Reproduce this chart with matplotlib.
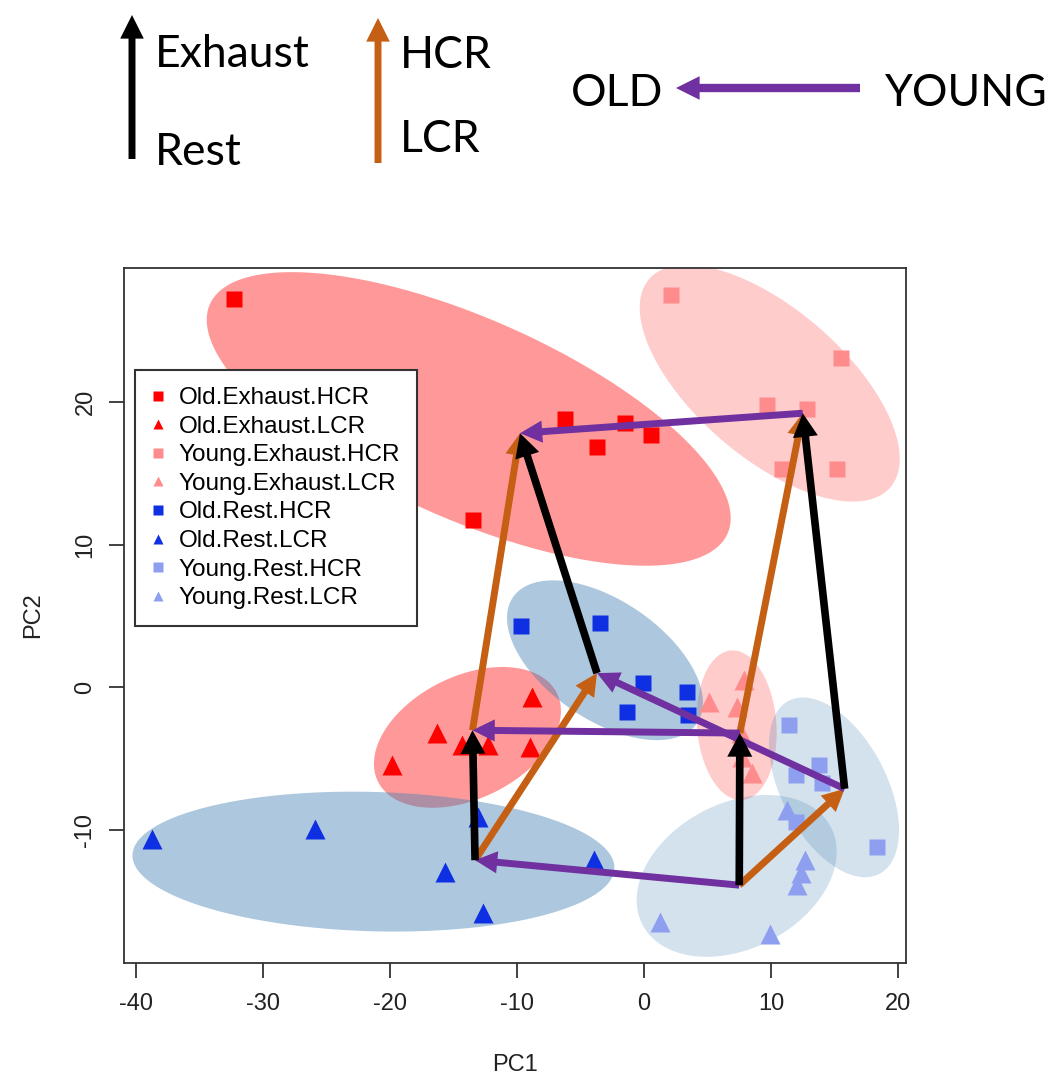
import numpy as np
import matplotlib.pyplot as plt
from matplotlib.lines import Line2D
from matplotlib.patches import FancyArrowPatch, ArrowStyle

plt.rcParams["axes.unicode_minus"] = False

# PCA scores, one pair of lists per group
groups = ["Old.Exhaust.HCR", "Old.Exhaust.LCR", "Young.Exhaust.HCR", "Young.Exhaust.LCR",
          "Old.Rest.HCR", "Old.Rest.LCR", "Young.Rest.HCR", "Young.Rest.LCR"]

old_exh_hcr_x = [-32.3, -13.5, -6.2, -3.7, -1.5, 0.55]
old_exh_hcr_y = [27.2, 11.7, 18.8, 16.85, 18.5, 17.7]
old_exh_lcr_x = [-19.8, -16.3, -14.3, -12.3, -8.8, -9.0]
old_exh_lcr_y = [-5.45, -3.2, -4.05, -4.05, -0.7, -4.2]
young_exh_hcr_x = [2.1, 15.5, 9.7, 12.8, 10.9, 15.2]
young_exh_hcr_y = [27.5, 23.1, 19.8, 19.5, 15.3, 15.3]
young_exh_lcr_x = [7.9, 5.1, 7.3, 7.7, 8.5, 7.6]
young_exh_lcr_y = [0.5, -1.05, -1.4, -4.9, -6.0, -3.2]
old_rest_hcr_x = [-9.7, -3.5, -0.1, 3.4, -1.3, 3.5]
old_rest_hcr_y = [4.3, 4.5, 0.3, -0.35, -1.75, -1.9]
old_rest_lcr_x = [-38.7, -25.9, -15.7, -12.7, -13.1, -3.9]
old_rest_lcr_y = [-10.6, -9.9, -12.9, -15.8, -9.1, -12.1]
young_rest_hcr_x = [11.4, 13.8, 12.0, 14.0, 18.35, 12.0]
young_rest_hcr_y = [-2.6, -5.4, -6.1, -6.7, -11.2, -9.4]
young_rest_lcr_x = [11.3, 12.7, 12.4, 12.05, 1.3, 9.9]
young_rest_lcr_y = [-8.6, -12.1, -13.0, -13.85, -16.4, -17.3]

xs = [old_exh_hcr_x, old_exh_lcr_x, young_exh_hcr_x, young_exh_lcr_x,
      old_rest_hcr_x, old_rest_lcr_x, young_rest_hcr_x, young_rest_lcr_x]
ys = [old_exh_hcr_y, old_exh_lcr_y, young_exh_hcr_y, young_exh_lcr_y,
      old_rest_hcr_y, old_rest_lcr_y, young_rest_hcr_y, young_rest_lcr_y]

# group centres (where the arrows meet)
centre_x = [-9.76, -13.5, 12.5, 7.55, -3.7, -13.3, 15.8, 7.5]
centre_y = [17.8, -3.0, 19.2, -3.2, 1.0, -12.1, -7.1, -13.85]

# ellipses: centre and covariance (sxx, syy, sxy)
ell_cx = [-13.8, -13.9, 9.9, 7.3, -3.07, -21.3, 14.96, 7.3]
ell_cy = [18.8, -3.5, 21.3, -2.65, 1.9, -12.2, -7.0, -13.2]
ell_sxx = [425.6, 54.2, 104.8, 9.9, 59.5, 360.0, 26.2, 62.0]
ell_syy = [105.7, 24.3, 68.7, 27.5, 31.3, 24.0, 39.6, 32.1]
ell_sxy = [-143.2, 13.6, -54.2, -1.65, -22.9, -8.1, -15.4, 13.4]

point_col = ["#ff0000", "#ff0000", "#ff8c8c", "#ff8c8c", "#0f2fe3", "#0f2fe3", "#8f9ff0", "#8f9ff0"]
ell_col = ["red", "red", "red", "red", "steelblue", "steelblue", "steelblue", "steelblue"]
ell_alpha = [0.4, 0.4, 0.2, 0.2, 0.44, 0.44, 0.23, 0.23]
markers = ["s", "^", "s", "^", "s", "^", "s", "^"]

# arrows as (from group, to group)
rest_to_exh = [(5, 1), (7, 3), (4, 0), (6, 2)]
lcr_to_hcr = [(1, 0), (3, 2), (5, 4), (7, 6)]
young_to_old = [(2, 0), (3, 1), (6, 4), (7, 5)]

fig = plt.figure(figsize=(10.52, 10.76), dpi=100)
ax = fig.add_axes([124 / 1052, 1 - 963 / 1076, 782 / 1052, 695 / 1076])

t = np.linspace(0, 2 * np.pi, 200)
for i in range(8):
    cov = np.array([[ell_sxx[i], ell_sxy[i]], [ell_sxy[i], ell_syy[i]]])
    L = np.linalg.cholesky(cov)
    pts = L @ np.vstack([np.cos(t), np.sin(t)])
    ax.fill(ell_cx[i] + pts[0], ell_cy[i] + pts[1], color=ell_col[i],
            alpha=ell_alpha[i], lw=0, zorder=1)

for i in range(8):
    ms = 12 if markers[i] == "s" else 15
    ax.plot(xs[i], ys[i], ls="none", marker=markers[i], ms=ms, color=point_col[i],
            mec="none", zorder=3)


def arrow(p0, p1, color, tail=5.0, hw=16.0, hl=16.0, **kw):
    a = FancyArrowPatch(p0, p1, arrowstyle=ArrowStyle.Simple(head_length=hl, head_width=hw, tail_width=tail),
                        mutation_scale=1, color=color, lw=0, shrinkA=0, shrinkB=0, **kw)
    return a


for a, b in lcr_to_hcr:
    ax.add_patch(arrow((centre_x[a], centre_y[a]), (centre_x[b], centre_y[b]), "#c55f13", zorder=4))
for a, b in young_to_old:
    ax.add_patch(arrow((centre_x[a], centre_y[a]), (centre_x[b], centre_y[b]), "#7030a0", zorder=5))
for a, b in rest_to_exh:
    ax.add_patch(arrow((centre_x[a], centre_y[a]), (centre_x[b], centre_y[b]), "black",
                       tail=5.5, hw=18, hl=17, zorder=6))

ax.set_xlim(-40.94, 20.63)
ax.set_ylim(-19.3, 29.37)
ax.set_xticks([-40, -30, -20, -10, 0, 10, 20])
ax.set_yticks([-10, 0, 10, 20])
for s in ax.spines.values():
    s.set_color("#333333")
    s.set_linewidth(1.3)
ax.tick_params(axis="both", length=10.8, width=1.3, color="#333333", labelsize=17,
               labelcolor="#222222")
ax.tick_params(axis="x", pad=11)
ax.tick_params(axis="y", pad=9)
for lab in ax.get_yticklabels():
    lab.set_rotation(90)
    lab.set_va("center")
for lab in ax.get_xticklabels() + ax.get_yticklabels():
    lab.set_family("Liberation Sans")
ax.set_xlabel("PC1", fontsize=17, family="Liberation Sans", labelpad=28, color="#222222")
ax.set_ylabel("PC2", fontsize=17, family="Liberation Sans", labelpad=22, color="#222222")

handles = [Line2D([], [], ls="none", marker=markers[i], color=point_col[i], mec="none", ms=7.5)
           for i in range(8)]
leg = ax.legend(handles, groups, loc="upper left", bbox_to_anchor=(0.014, 0.853),
                borderaxespad=0, fancybox=False, framealpha=1, edgecolor="#333333",
                prop={"family": "Liberation Sans", "size": 17.5}, labelspacing=0.27,
                handlelength=0.5, handletextpad=0.6, borderpad=0.7)
leg.get_frame().set_linewidth(1.5)
leg.set_zorder(7)

# key at the top of the figure
hfont = {"family": "Lato", "size": 32}
fig.text(155 / 1052, 1 - 67 / 1076, "Exhaust", va="baseline", **hfont)
fig.text(155 / 1052, 1 - 165 / 1076, "Rest", va="baseline", **hfont)
fig.text(400 / 1052, 1 - 68 / 1076, "HCR", va="baseline", **hfont)
fig.text(400 / 1052, 1 - 152 / 1076, "LCR", va="baseline", **hfont)
fig.text(571 / 1052, 1 - 106 / 1076, "OLD", va="baseline", **hfont)
fig.text(885 / 1052, 1 - 106 / 1076, "YOUNG", va="baseline", **hfont)

tf = fig.transFigure
fig.add_artist(arrow((132 / 1052, 1 - 159 / 1076), (132 / 1052, 1 - 15 / 1076), "black",
                     tail=5, hw=17, hl=17, transform=tf))
fig.add_artist(arrow((378 / 1052, 1 - 163 / 1076), (378 / 1052, 1 - 18 / 1076), "#c55f13",
                     tail=5, hw=17, hl=17, transform=tf))
fig.add_artist(arrow((860 / 1052, 1 - 88 / 1076), (676 / 1052, 1 - 88 / 1076), "#7030a0",
                     tail=6, hw=17, hl=17, transform=tf))

fig.savefig("out.png", dpi=100)
